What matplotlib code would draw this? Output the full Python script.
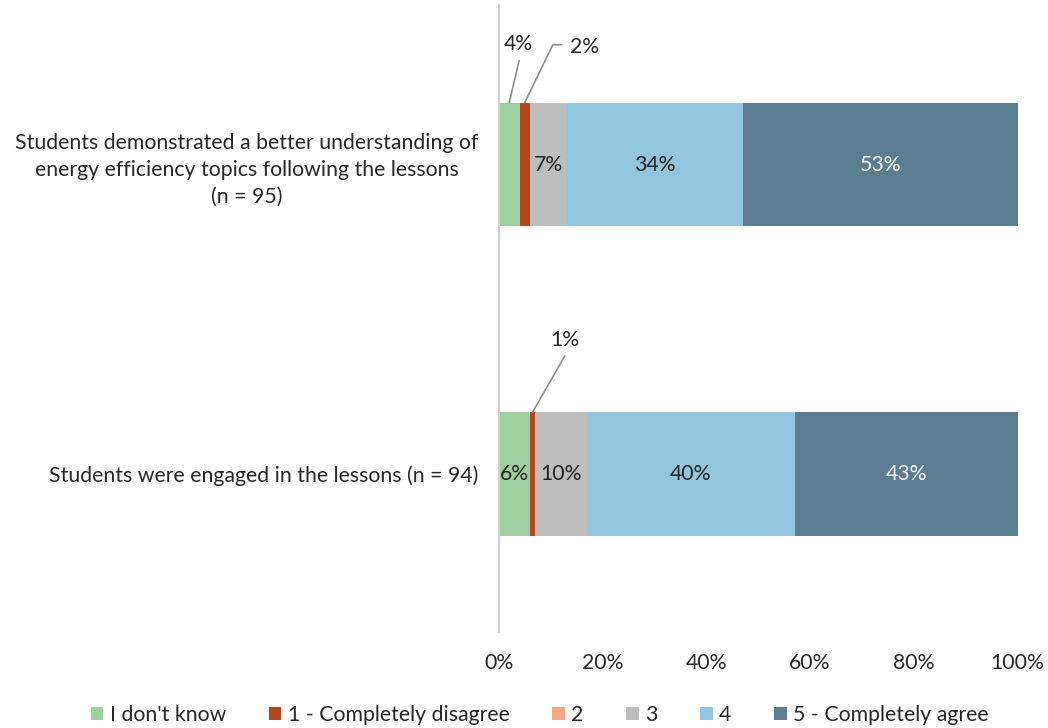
import matplotlib.pyplot as plt
import numpy as np

plt.rcParams['font.family'] = ['Lato', 'DejaVu Sans']

# data
questions = [
    "Students were engaged in the lessons (n = 94)",
    "Students demonstrated a better understanding of\nenergy efficiency topics following the lessons\n(n = 95)",
]
responses = ["I don't know", "1 - Completely disagree", "2", "3", "4", "5 - Completely agree"]
engaged = [6, 1, 0, 10, 40, 43]
understanding = [4, 2, 0, 7, 34, 53]
colors = ["#9fcf9f", "#b5461f", "#f4a582", "#bdbdbd", "#92c5de", "#5a7d91"]
text_colors = ["#222222", "#222222", "#222222", "#222222", "#222222", "white"]

values = np.array([engaged, understanding])
FS = 15.3
TXT = '#262626'

fig = plt.figure(figsize=(10.48, 7.28), dpi=100)
ax = fig.add_axes([0.476, 0.132, 0.495, 0.861])

y = np.arange(len(questions))
left = np.zeros(len(questions))
for j, resp in enumerate(responses):
    ax.barh(y, values[:, j], left=left, height=0.4, color=colors[j], label=resp)
    for i in range(len(questions)):
        v = values[i, j]
        if v >= 5:
            ax.text(left[i] + v / 2, y[i], f"{v}%", ha='center', va='center',
                    fontsize=FS, color=text_colors[j])
    left += values[:, j]

# leader-line labels for the small segments
cum = np.cumsum(values, axis=1)
line_kw = dict(color='#8c8c8c', lw=1.2)
# 4% (understanding, I don't know)
x0 = cum[1, 0] / 2
ax.plot([x0, 3.9], [1.2, 1.335], **line_kw)
ax.text(3.7, 1.39, f"{values[1, 0]}%", ha='center', va='center', fontsize=FS, color=TXT)
# 2% (understanding, 1)
x1 = cum[1, 0] + values[1, 1] / 2
ax.plot([x1, 10.4, 12.1], [1.2, 1.387, 1.387], **line_kw)
ax.text(16.6, 1.38, f"{values[1, 1]}%", ha='center', va='center', fontsize=FS, color=TXT)
# 1% (engaged, 1)
x2 = cum[0, 0] + values[0, 1] / 2
ax.plot([x2, 12.7], [0.2, 0.381], **line_kw)
ax.text(12.7, 0.432, f"{values[0, 1]}%", ha='center', va='center', fontsize=FS, color=TXT)

ax.set_xlim(0, 100)
ax.set_ylim(-0.51, 1.515)
ax.set_yticks(y)
ax.set_yticklabels(questions, fontsize=FS, color=TXT, ha='right',
                   multialignment='center', linespacing=1.45)
ax.tick_params(axis='y', length=0, pad=15)
ax.set_xticks(np.arange(0, 101, 20))
ax.set_xticklabels([f"{t}%" for t in range(0, 101, 20)], fontsize=FS, color=TXT)
ax.tick_params(axis='x', length=0, pad=15)
for s in ['top', 'right', 'bottom']:
    ax.spines[s].set_visible(False)
ax.spines['left'].set_color('#d0d0d0')
ax.spines['left'].set_linewidth(1.5)

fig.legend(loc='lower center', bbox_to_anchor=(0.515, -0.022), ncol=6, frameon=False,
           fontsize=FS, handlelength=0.6, handleheight=0.6, handletextpad=0.3,
           columnspacing=2.0, labelcolor=TXT)

fig.savefig('out.png', dpi=100)
